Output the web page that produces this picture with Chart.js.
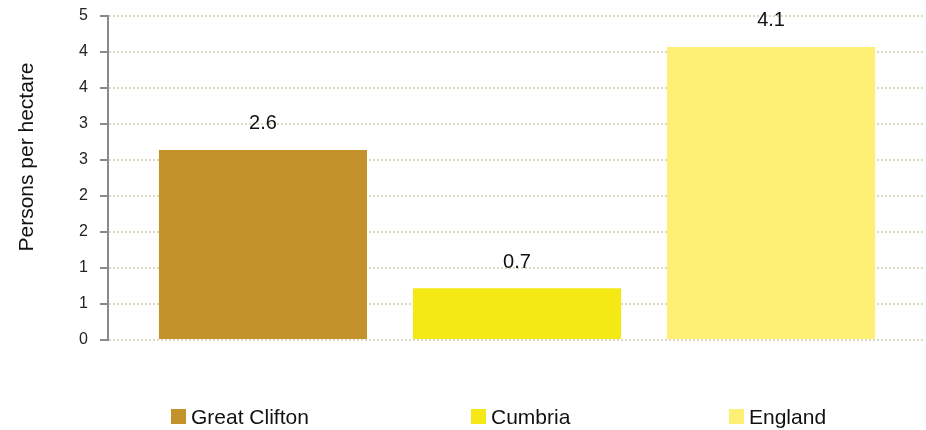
<!DOCTYPE html>
<html>
<head>
<meta charset="utf-8">
<script src="https://cdn.jsdelivr.net/npm/chart.js@4"></script>
<style>
  html, body { margin: 0; padding: 0; background: #fff; }
  #wrap { position: relative; width: 926px; height: 430px; }
  #c { position: absolute; left: 0; top: 0; }
  .leg { position: absolute; top: 409px; height: 15px; display: flex; align-items: center;
         font-family: "Liberation Sans", Arial, sans-serif; font-size: 21px; color: #111; white-space: nowrap; }
  .leg span.box { display: inline-block; width: 15px; height: 15px; margin-right: 5px; }
</style>
</head>
<body>
<div id="wrap">
  <canvas id="c" width="926" height="430"></canvas>
</div>
<script>
const categories = ['Great Clifton', 'Cumbria', 'England'];
const values = [2.64, 0.72, 4.07];
const valueLabels = ['2.6', '0.7', '4.1'];
const barColors = ['#C4922B', '#F4E914', '#FEF075'];
const axisTitle = 'Persons per hectare';

const FONT = '"Liberation Sans", Arial, sans-serif';

const dataLabelPlugin = {
  id: 'dataLabels',
  afterDatasetsDraw(chart) {
    const ctx = chart.ctx;
    const meta = chart.getDatasetMeta(0);
    ctx.save();
    ctx.font = '20px ' + FONT;
    ctx.fillStyle = '#111';
    ctx.textAlign = 'center';
    ctx.textBaseline = 'alphabetic';
    meta.data.forEach((bar, i) => {
      ctx.fillText(valueLabels[i], bar.x, bar.y - 20.5);
    });
    ctx.restore();
  }
};

const yTitlePlugin = {
  id: 'yTitle',
  afterDraw(chart) {
    const ctx = chart.ctx;
    ctx.save();
    ctx.translate(27, 157);
    ctx.rotate(-Math.PI / 2);
    ctx.font = '21px ' + FONT;
    ctx.fillStyle = '#111';
    ctx.textAlign = 'center';
    ctx.textBaseline = 'middle';
    ctx.fillText(axisTitle, 0, 0);
    ctx.restore();
  }
};

new Chart(document.getElementById('c'), {
  type: 'bar',
  data: {
    datasets: [{
      data: categories.map((c, i) => ({ x: i, y: values[i] })),
      backgroundColor: barColors,
      borderWidth: 0,
      barPercentage: 0.819,
      categoryPercentage: 1.0
    }]
  },
  options: {
    responsive: false,
    animation: false,
    layout: { padding: { left: 0, right: 1, top: 16, bottom: 90 } },
    plugins: { legend: { display: false }, tooltip: { enabled: false } },
    scales: {
      x: {
        type: 'linear',
        display: false,
        offset: false,
        min: -0.61,
        max: 2.606,
        afterBuildTicks(scale) {
          scale.ticks = categories.map((c, i) => ({ value: i }));
        }
      },
      y: {
        min: 0,
        max: 4.5,
        afterFit(scale) {
          scale.width = 108;
          scale.paddingTop = 0;
          scale.paddingBottom = 0;
        },
        ticks: {
          stepSize: 0.5,
          padding: 12,
          color: '#222',
          font: { family: FONT, size: 16 },
          callback: (v) => String(Math.round(v))
        },
        grid: {
          color: '#dcd8c2',
          lineWidth: 2,
          drawTicks: true,
          tickLength: 8,
          tickColor: '#8a8a8a',
          tickWidth: 2,
          tickBorderDash: []
        },
        border: {
          display: true,
          color: '#8a8a8a',
          width: 2,
          dash: [2, 2]
        }
      }
    }
  },
  plugins: [dataLabelPlugin, yTitlePlugin]
});

// HTML legend
const legendLefts = [171, 471, 729];
const wrap = document.getElementById('wrap');
categories.forEach((c, i) => {
  const d = document.createElement('div');
  d.className = 'leg';
  d.style.left = legendLefts[i] + 'px';
  const b = document.createElement('span');
  b.className = 'box';
  b.style.background = barColors[i];
  const t = document.createElement('span');
  t.textContent = c;
  d.appendChild(b);
  d.appendChild(t);
  wrap.appendChild(d);
});
</script>
</body>
</html>
